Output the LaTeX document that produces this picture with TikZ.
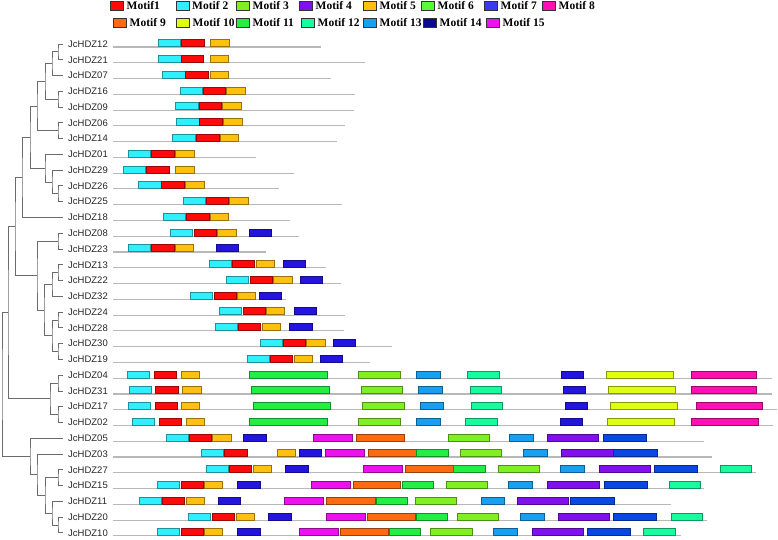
\documentclass[tikz,border=0pt]{standalone}
\usepackage{fontspec}
\setmainfont{Liberation Serif}
\newfontfamily\genefont{Liberation Sans}
\usepackage{tikz}
\usetikzlibrary{positioning}

\definecolor{m1}{HTML}{FF0A0A}
\definecolor{m2}{HTML}{30F0FF}
\definecolor{m3}{HTML}{80F020}
\definecolor{m4}{HTML}{8010F0}
\definecolor{m5}{HTML}{FFC010}
\definecolor{m6}{HTML}{55FF33}
\definecolor{m7}{HTML}{2414E0}
\definecolor{m8}{HTML}{FF10B0}
\definecolor{m9}{HTML}{FF6A10}
\definecolor{m10}{HTML}{E0FF10}
\definecolor{m11}{HTML}{22EE44}
\definecolor{m12}{HTML}{18FCA0}
\definecolor{m13}{HTML}{18A0F0}
\definecolor{m14}{HTML}{0A48E6}
\definecolor{m15}{HTML}{EE10EE}
\definecolor{leg7}{HTML}{3A3AF0}
\definecolor{leg14}{HTML}{0A0A90}

\tikzset{
  branch/.style={draw=black!58, line width=0.9pt},
  backbone/.style={draw=black!28, line width=1.1pt},
  motif/.style={fill=#1, draw=#1!60!black, line width=0.6pt},
  gene/.style={anchor=west, inner xsep=5pt, inner ysep=1pt, text=black!85,
    font=\genefont\fontsize{9.5}{11}\selectfont},
  legbox/.style={draw=black!80, line width=0.7pt, minimum width=13pt,
    minimum height=9pt, inner sep=0pt},
  legtext/.style={font=\bfseries\fontsize{11.5}{14}\selectfont, inner sep=1pt}
}

% one gene: row number, end of its line, boxes start/end/colour
\newcommand{\generow}[3]{%
  \draw[backbone] (113,{47+15.77*#1}) -- (#2,{47+15.77*#1});
  \foreach \xa/\xb/\col in {#3}
    \draw[motif=\col] (\xa,{39.7+15.77*#1}) rectangle (\xb,{46.7+15.77*#1});
}

\begin{document}
\begin{tikzpicture}[x=1pt,y=-1pt]
        \useasboundingbox (0,0) rectangle (778,539);

        \foreach \xr/\yy/\col/\txt [count=\i] in {124/6/m1/Motif1, 189.5/6/m2/Motif 2,
            250/6/m3/Motif 3, 313/6/m4/Motif 4, 377/6/m5/Motif 5, 435/6/m6/Motif 6,
            498/6/leg7/Motif 7, 556/6/m8/Motif 8, 127/23/m9/Motif 9, 190/23/m10/Motif 10,
            250/23/m11/Motif 11, 315/23/m12/Motif 12, 377/23/m13/Motif 13,
            437/23/leg14/Motif 14, 500/23/m15/Motif 15}
          {
          \node[legbox, fill=\col, anchor=east] (k\i) at (\xr,\yy) {};
          \node[legtext, right=1.5pt of k\i] (t\i) {\txt};
          }

        \foreach \g [count=\r from 0] in {12,21,07,16,09,06,14,01,29,26,25,18,08,23,13,22,
            32,24,28,30,19,04,31,17,02,05,03,27,15,11,20,10}
          \node[gene] (g\g) at (63,{44+15.77*\r}) {JcHDZ\g};

        \coordinate (a1) at (58,51.9);
        \coordinate (a2) at (52,63.7);
        \coordinate (a3) at (58,99.2);
        \coordinate (a4) at (45,81.45);
        \coordinate (a5) at (58,130.7);
        \coordinate (a6) at (37,106.1);
        \coordinate (b1) at (58,193.8);
        \coordinate (b2) at (52,182.0);
        \coordinate (b3) at (45,168.2);
        \coordinate (c1) at (30,137.15);
        \coordinate (c2) at (22,177.3);
        \coordinate (d1) at (58,241.1);
        \coordinate (d2) at (58,272.7);
        \coordinate (d3) at (52,284.5);
        \coordinate (d4) at (58,320.0);
        \coordinate (d5) at (58,351.5);
        \coordinate (d6) at (52,335.75);
        \coordinate (d7) at (44,310.1);
        \coordinate (d8) at (37,275.6);
        \coordinate (e1) at (15,226.5);
        \coordinate (f1) at (58,383.1);
        \coordinate (f2) at (58,414.6);
        \coordinate (f3) at (50,398.8);
        \coordinate (e2) at (8,312.6);
        \coordinate (h1) at (58,477.7);
        \coordinate (h2) at (58,525.0);
        \coordinate (h3) at (52,513.2);
        \coordinate (h4) at (45,495.4);
        \coordinate (h5) at (37,474.7);
        \coordinate (h6) at (30,456.5);
        \coordinate (root) at (2,384.5);

        \draw[branch] (g12.west) -| (a1) |- (g21.west);
        \draw[branch] (a1) -| (a2) |- (g07.west);
        \draw[branch] (g16.west) -| (a3) |- (g09.west);
        \draw[branch] (a2) -| (a4) |- (a3);
        \draw[branch] (g06.west) -| (a5) |- (g14.west);
        \draw[branch] (a4) -| (a6) |- (a5);
        \draw[branch] (g26.west) -| (b1) |- (g25.west);
        \draw[branch] (g29.west) -| (b2) |- (b1);
        \draw[branch] (g01.west) -| (b3) |- (b2);
        \draw[branch] (a6) -| (c1) |- (b3);
        \draw[branch] (c1) -| (c2) |- (g18.west);
        \draw[branch] (g08.west) -| (d1) |- (g23.west);
        \draw[branch] (g13.west) -| (d2) |- (g22.west);
        \draw[branch] (d2) -| (d3) |- (g32.west);
        \draw[branch] (g24.west) -| (d4) |- (g28.west);
        \draw[branch] (g30.west) -| (d5) |- (g19.west);
        \draw[branch] (d4) -| (d6) |- (d5);
        \draw[branch] (d3) -| (d7) |- (d6);
        \draw[branch] (d1) -| (d8) |- (d7);
        \draw[branch] (c2) -| (e1) |- (d8);
        \draw[branch] (g04.west) -| (f1) |- (g31.west);
        \draw[branch] (g17.west) -| (f2) |- (g02.west);
        \draw[branch] (f1) -| (f3) |- (f2);
        \draw[branch] (e1) -| (e2) |- (f3);
        \draw[branch] (g27.west) -| (h1) |- (g15.west);
        \draw[branch] (g20.west) -| (h2) |- (g10.west);
        \draw[branch] (g11.west) -| (h3) |- (h2);
        \draw[branch] (h1) -| (h4) |- (h3);
        \draw[branch] (g03.west) -| (h5) |- (h4);
        \draw[branch] (g05.west) -| (h6) |- (h5);
        \draw[branch] (e2) -| (root) |- (h6);

        \generow{0}{320.7}{158.3/180.7/m2, 181.7/204.3/m1, 210.3/229.3/m5}
        \generow{1}{365.3}{158/181/m2, 181/203.7/m1, 210.3/228.7/m5}
        \generow{2}{331}{162.3/185/m2, 185.7/208.3/m1, 210/228/m5}
        \generow{3}{354.7}{180/202.3/m2, 203/225.7/m1, 226.7/245.7/m5}
        \generow{4}{354}{175.3/198.3/m2, 199/221.7/m1, 222.7/241.7/m5}
        \generow{5}{344.7}{176.3/199/m2, 199.7/222/m1, 223.3/242/m5}
        \generow{6}{337}{172.7/195.3/m2, 196.7/219/m1, 220/238.7/m5}
        \generow{7}{255.7}{128.7/150.7/m2, 151.7/174/m1, 175.3/194.3/m5}
        \generow{8}{293.7}{123.3/145.7/m2, 146.7/169.3/m1, 175.3/194.3/m5}
        \generow{9}{278.7}{138.7/161/m2, 161.7/184.3/m1, 185.7/204.3/m5}
        \generow{10}{341.7}{183.3/205.7/m2, 206/228.7/m1, 229.7/248.3/m5}
        \generow{11}{290}{163.3/185.7/m2, 186.7/209/m1, 210.3/228.7/m5}
        \generow{12}{299}{170.3/192.7/m2, 194/216.7/m1, 217.7/236/m5, 249/271.3/m7}
        \generow{13}{266}{128.7/150.7/m2, 151.7/174.7/m1, 175.7/193.7/m5, 216/238.7/m7}
        \generow{14}{326.3}{209.3/231.3/m2, 232/254.7/m1, 256.3/274.3/m5, 283/305.3/m7}
        \generow{15}{341}{226.7/248.7/m2, 250/272.7/m1, 273.7/292/m5, 300.3/322.7/m7}
        \generow{16}{286}{190.3/212.7/m2, 214/236/m1, 237.3/255.7/m5, 259/281.3/m7}
        \generow{17}{345}{219.3/241.7/m2, 243/265/m1, 266.3/284.7/m5, 294/316.3/m7}
        \generow{18}{343.7}{215.3/237.3/m2, 238.7/260.7/m1, 262.3/280.3/m5, 289.7/312/m7}
        \generow{19}{391.7}{260/282/m2, 283/305.7/m1, 306.7/325.3/m5, 333/355.7/m7}
        \generow{20}{370.3}{247/269/m2, 270/292.7/m1, 294.3/312.3/m5, 320/342.3/m7}
        \generow{21}{771.7}{127.7/149.7/m2, 154.3/176.7/m1, 181.3/199.3/m5, 249.3/327.7/m11,
            358.3/400/m3, 416/440.3/m13, 467.7/499.3/m12, 561.3/583.7/m7, 606/673.7/m10, 691/756.7/m8}
        \generow{22}{771.7}{129.3/151.7/m2, 155.7/178/m1, 182.3/201.3/m5, 251.3/329.7/m11,
            361/402.3/m3, 418.3/442.7/m13, 470.3/501.7/m12, 563/585.7/m7, 608.3/675.3/m10, 691/756.7/m8}
        \generow{23}{776.7}{128.3/150.3/m2, 155/177.3/m1, 181.7/199.7/m5, 253/330.7/m11,
            362.7/404/m3, 420.3/443.7/m13, 471/502.3/m12, 565.7/587.7/m7, 610.3/677.7/m10, 696/762.7/m8}
        \generow{24}{772.7}{132.3/154.3/m2, 159/181.7/m1, 186/204/m5, 249.3/327.7/m11,
            358.7/400/m3, 416/440.3/m13, 465.7/497.3/m12, 560/582.7/m7, 607/674.7/m10, 691.7/758/m8}
        \generow{25}{704.3}{166/188/m2, 189/211.3/m1, 212.7/231.3/m5, 243.7/266/m7, 313/352.7/m15,
            356/404.7/m9, 448.3/489.3/m3, 509.3/533.7/m13, 547.3/598.7/m4, 603.3/646.7/m14}
        \generow{26}{711.7}{201/223/m2, 224.7/247/m1, 277/295.3/m5, 299/321.7/m7, 325.3/364.7/m15,
            368/416/m9, 416.7/448.3/m11, 460/501.3/m3, 523/547/m13, 561/613/m4, 613.7/657.7/m14}
        \generow{27}{755.7}{206.3/228.3/m2, 229.7/251.7/m1, 253.3/271.7/m5, 285.7/308.3/m7,
            363.7/402.7/m15, 405.3/453/m9, 453.7/485.7/m11, 498.3/539.7/m3, 560.3/584.3/m13,
            599/650.3/m4, 654/697.7/m14, 720.3/751.7/m12}
        \generow{28}{704.3}{157.7/179.7/m2, 181/203.7/m1, 204.7/222.7/m5, 237.7/260/m7,
            311.3/350.7/m15, 353.3/400.7/m9, 402.3/433.7/m11, 446.3/487.7/m3, 508.7/532.7/m13,
            547.7/599/m4, 604/647.7/m14, 669.3/700.7/m12}
        \generow{29}{670.7}{139/161/m2, 162/184.7/m1, 186.3/204.3/m5, 218.3/240.7/m7,
            284.3/323.7/m15, 326.7/375/m9, 376/407/m11, 415.5/456.3/m3, 481.3/504.7/m13,
            517.3/568.7/m4, 570/614/m14}
        \generow{30}{707.3}{188.7/210.7/m2, 212/234.7/m1, 236/254/m5, 268.7/291.3/m7,
            326.3/365.7/m15, 367.3/415.3/m9, 416.3/447.7/m11, 457.7/498.7/m3, 520.3/544.3/m13,
            558.7/609.7/m4, 613/656.7/m14, 671.7/702.7/m12}
        \generow{31}{681}{157.7/179.7/m2, 181/203.7/m1, 204.7/222.7/m5, 237.7/260/m7,
            299.3/338.7/m15, 340/388.7/m9, 389.3/420.7/m11, 430.7/472/m3, 493.7/517.3/m13,
            532/583/m4, 587.3/630/m14, 643.7/675/m12}
\end{tikzpicture}
\end{document}
